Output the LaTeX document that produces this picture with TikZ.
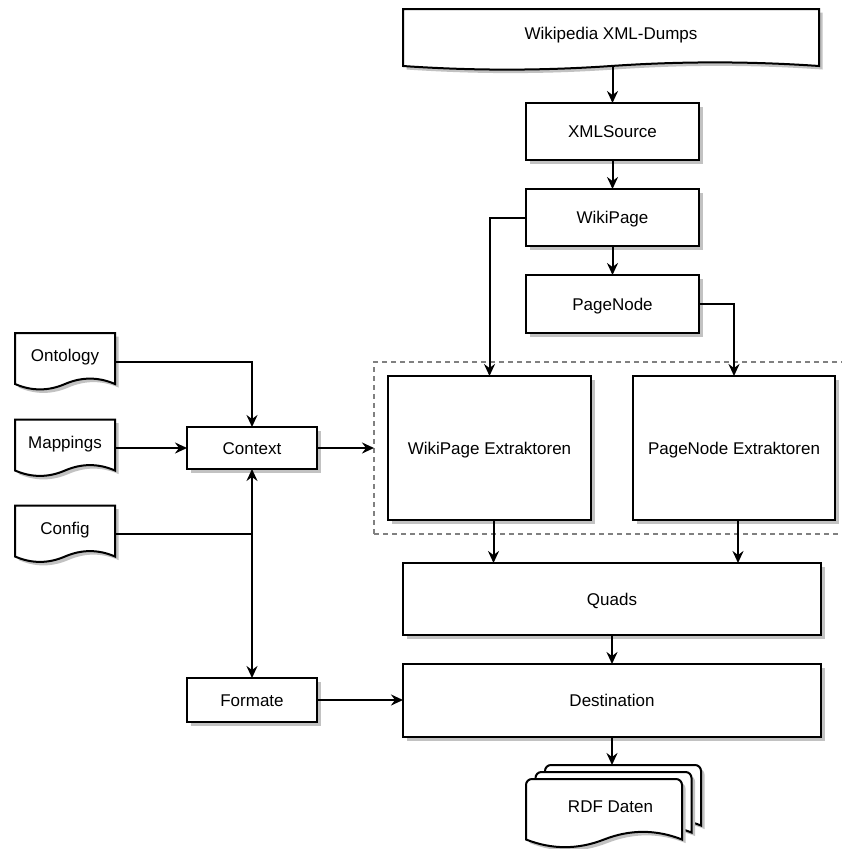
\documentclass[tikz,border=0pt]{standalone}
\usepackage{fontspec}
\setmainfont{Liberation Sans}
\usetikzlibrary{arrows.meta,shadows,calc}
\colorlet{shadowc}{black!24}
\tikzset{
  base/.style={outer sep=0pt, inner sep=0pt, font=\fontsize{17}{20}\selectfont, text height=12pt, text depth=0pt},
  box/.style={base, draw, line width=2pt, fill=white, rectangle,
    drop shadow={shadow xshift=3.5pt, shadow yshift=-3.5pt, fill=shadowc, opacity=1}},
  docnode/.style={base, rectangle, text depth=12pt},
  conn/.style={line width=2pt, -{Stealth[length=12pt,width=11pt,inset=4pt]}},
  grpbox/.style={base, draw=black!50, dash pattern=on 5pt off 4pt, line width=1.5pt},
}
% document shape: x1 y1 x2 y2 dy (y downwards), #6 = radius of top corners
\newcommand\docpathspec[6]{(#1,{#4-0.5*#5}) [rounded corners=#6] -- (#1,#2) -- (#3,#2) [sharp corners] -- (#3,{#4-0.5*#5})
    .. controls ({#3-(#3-#1)/6},{#4-1.1*#5}) and ({#3-(#3-#1)/3},{#4-1.1*#5}) .. ({(#1+#3)/2},{#4-0.5*#5})
    .. controls ({#1+(#3-#1)/3},{#4+0.1*#5}) and ({#1+(#3-#1)/6},{#4+0.1*#5}) .. (#1,{#4-0.5*#5}) -- cycle}
\newcommand\drawdoc[6]{%
  \fill[shadowc, shift={(3.5,3.5)}] (#1,{#4-0.5*#5}) [rounded corners=#6] -- (#1,#2) -- (#3,#2) [sharp corners] -- (#3,{#4-0.5*#5})
    .. controls ({#3-(#3-#1)/6},{#4-1.1*#5}) and ({#3-(#3-#1)/3},{#4-1.1*#5}) .. ({(#1+#3)/2},{#4-0.5*#5})
    .. controls ({#1+(#3-#1)/3},{#4+0.1*#5}) and ({#1+(#3-#1)/6},{#4+0.1*#5}) .. (#1,{#4-0.5*#5}) -- cycle;
  \filldraw[fill=white, draw=black, line width=2pt] (#1,{#4-0.5*#5}) [rounded corners=#6] -- (#1,#2) -- (#3,#2) [sharp corners] -- (#3,{#4-0.5*#5})
    .. controls ({#3-(#3-#1)/6},{#4-1.1*#5}) and ({#3-(#3-#1)/3},{#4-1.1*#5}) .. ({(#1+#3)/2},{#4-0.5*#5})
    .. controls ({#1+(#3-#1)/3},{#4+0.1*#5}) and ({#1+(#3-#1)/6},{#4+0.1*#5}) .. (#1,{#4-0.5*#5}) -- cycle;
}
\begin{document}
\begin{tikzpicture}[x=1pt,y=-1pt]
\useasboundingbox (0,0) rectangle (842,849);

% dashed group
\node[grpbox, minimum width=474pt, minimum height=172pt] (grp) at (611,448) {};

% top document
\drawdoc{403}{9}{819}{70}{8}{0pt}
\node[docnode, minimum width=416pt, minimum height=61pt] (dumps) at (611,39.5) {Wikipedia XML-Dumps};

% column boxes
\node[box, minimum width=173pt, minimum height=57pt] (xml) at (612.5,131.5) {XMLSource};
\node[box, minimum width=173pt, minimum height=57pt] (wiki) at (612.5,217.5) {WikiPage};
\node[box, minimum width=173pt, minimum height=58pt] (pnode) at (612.5,304) {PageNode};

\node[box, minimum width=203pt, minimum height=144pt] (wext) at (489.5,448) {WikiPage Extraktoren};
\node[box, minimum width=202pt, minimum height=144pt] (pext) at (734,448) {PageNode Extraktoren};

\node[box, minimum width=418pt, minimum height=72pt] (quads) at (612,599) {Quads};
\node[box, minimum width=418pt, minimum height=73pt] (dest) at (612,700.5) {Destination};

% left side
\drawdoc{15}{333}{115}{390}{12}{0pt}
\node[docnode, minimum width=100pt, minimum height=57pt] (onto) at (65,361.5) {Ontology};
\drawdoc{15}{419.5}{115}{476.5}{12}{0pt}
\node[docnode, minimum width=100pt, minimum height=57pt] (mapp) at (65,448) {Mappings};
\drawdoc{15}{505.5}{115}{562.5}{12}{0pt}
\node[docnode, minimum width=100pt, minimum height=57pt] (conf) at (65,534) {Config};

\node[box, minimum width=130pt, minimum height=42pt] (context) at (252,448) {Context};
\node[box, minimum width=130pt, minimum height=44pt] (formate) at (252,700) {Formate};

% RDF multi document
\drawdoc{545}{765}{701}{834}{17}{6pt}
\drawdoc{535.5}{772}{691.5}{841}{17}{6pt}
\drawdoc{526}{779}{682}{848}{17}{6pt}
\node[base, minimum width=175pt, minimum height=83pt] (rdf) at (613.5,806.5) {\hspace*{-6pt}RDF Daten};

% connectors
\coordinate (dtop) at ($(dumps.south -| xml.north)+(0,-4)$);
\draw[conn] (dtop) -- (xml.north);
\draw[conn] (xml.south) -- (wiki.north);
\draw[conn] (wiki.south) -- (pnode.north);
\draw[conn] (wiki.west) -| (wext.north);
\draw[conn] (pnode.east) -| (pext.north);
\coordinate (wo) at ($(wext.south)+(4,0)$);
\coordinate (po) at ($(pext.south)+(4,0)$);
\draw[conn] (wo) -- (wo |- quads.north);
\draw[conn] (po) -- (po |- quads.north);
\draw[conn] (quads.south) -- (dest.north);
\draw[conn] (context.east) -- (context.east -| grp.west);
\draw[conn] (onto.east) -| (context.north);
\draw[conn] (mapp.east) -- (context.west);
\draw[conn] (conf.east) -| (context.south);
\draw[conn] (conf.east) -| (formate.north);
\draw[conn] (formate.east) -- (formate.east -| dest.west);
\draw[conn] (dest.south) -- (dest.south |- rdf.north);
\end{tikzpicture}
\end{document}
